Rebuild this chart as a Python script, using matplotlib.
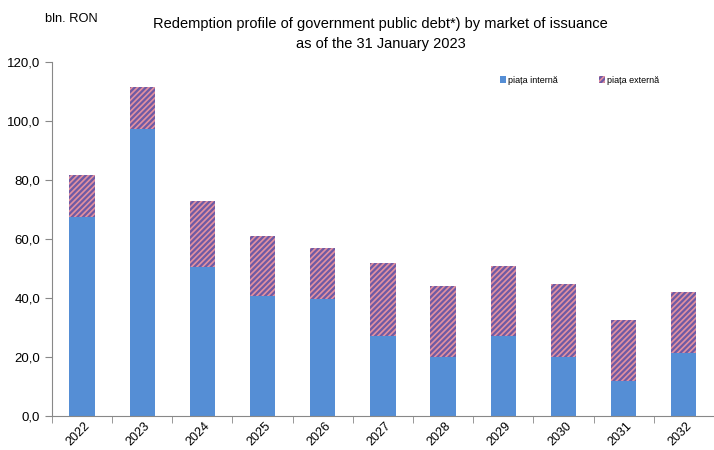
import numpy as np
import matplotlib
matplotlib.use("Agg")
from matplotlib import pyplot as plt

years = ["2022", "2023", "2024", "2025", "2026", "2027",
         "2028", "2029", "2030", "2031", "2032"]
internal = [67.4, 97.3, 50.5, 40.7, 39.7, 27.1, 20.0, 27.1, 20.0, 11.9, 21.4]
external = [14.3, 14.2, 22.4, 20.3, 17.2, 24.8, 24.1, 23.7, 24.7, 20.6, 20.6]
yticks = [0, 20, 40, 60, 80, 100, 120]

plt.rcParams['font.family'] = ['Liberation Sans', 'DejaVu Sans']
plt.rcParams['hatch.linewidth'] = 1.6

fig = plt.figure(figsize=(7.14, 4.5), dpi=100)
ax = fig.add_axes([0.0728, 0.0756, 0.927, 0.7864])

x = np.arange(len(years))
ax.bar(x, internal, width=0.42, color="#558ed5", label="piața internă")
ax.bar(x, external, width=0.42, bottom=internal, facecolor="#e2909f",
       edgecolor="#6e5aa5", hatch="//////", linewidth=0, label="piața externă")

ax.set_xlim(-0.5, len(years) - 0.5)
ax.set_ylim(0, 120)
ax.set_yticks(yticks)
ax.set_yticklabels([f"{v:.1f}".replace(".", ",") for v in yticks], fontsize=9.5)
ax.set_xticks(x + 0.03)
ax.set_xticklabels(years, rotation=45, fontsize=9, ha="right",
                   rotation_mode="anchor")
ax.set_xticks(np.arange(len(years) + 1) - 0.5, minor=True)
ax.tick_params(axis="x", which="major", length=0, pad=3)
ax.tick_params(axis="x", which="minor", length=5, color="#888888")
ax.tick_params(axis="y", length=5, color="#888888")

for side in ["top", "right"]:
    ax.spines[side].set_visible(False)
for side in ["left", "bottom"]:
    ax.spines[side].set_color("#888888")

fig.text(0.533, 0.925, "Redemption profile of government public debt*) by market of issuance\n"
         "as of the 31 January 2023", ha="center", va="center", fontsize=10.5,
         linespacing=1.55)
fig.text(0.063, 0.958, "bln. RON", ha="left", va="center", fontsize=9.3)

ax.legend(loc="upper right", bbox_to_anchor=(0.93, 0.985), ncol=2, frameon=False,
          fontsize=6.5, handlelength=0.7, handleheight=0.7, handletextpad=0.2,
          columnspacing=4.6)

plt.savefig("out.png", dpi=100)
